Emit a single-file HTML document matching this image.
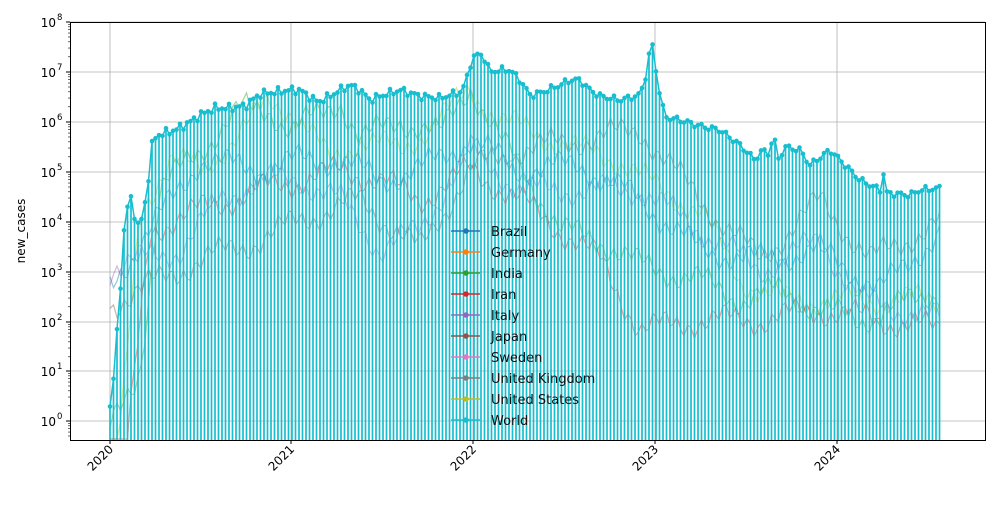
<!DOCTYPE html>
<html><head><meta charset="utf-8"><style>
body{margin:0;background:#fff}
svg{font-family:"DejaVu Sans","Liberation Sans",sans-serif}
</style></head><body>
<svg id="s" width="1000" height="500" viewBox="0 0 1000 500" xmlns="http://www.w3.org/2000/svg">
<rect width="1000" height="500" fill="#fff"/>
<g id="grid"></g>
<g id="others"></g>
<g id="world"></g>
<g id="legend"></g>
<rect x="70.5" y="22.5" width="915" height="418" fill="none" stroke="#000" stroke-width="1"/>
<g id="ticks"></g>
<text transform="translate(25,231) rotate(-90)" text-anchor="middle" font-size="12">new_cases</text>
</svg>
<script>
var NS="http://www.w3.org/2000/svg";
function el(p,t,a,txt){var e=document.createElementNS(NS,t);for(var k in a)e.setAttribute(k,a[k]);if(txt)e.textContent=txt;document.getElementById(p).appendChild(e);return e;}
var B=440;
var ty=[22,72,122,172,222,272,322,371,421];
for(var i=0;i<9;i++){var y=ty[i];
 el('grid','line',{x1:70,x2:985,y1:y,y2:y,stroke:'#b0b0b0','stroke-width':0.8});
 el('ticks','line',{x1:66,x2:70,y1:y,y2:y,stroke:'#000'});
 el('ticks','text',{x:56,y:y+5,'font-size':12,'text-anchor':'end'},'10');
 el('ticks','text',{x:57,y:y-2,'font-size':8.5},String(8-i));
 for(var m=2;m<10;m++){var yy=y+49.8*(1-Math.log10(m));if(yy<440&&yy>22)el('ticks','line',{x1:68,x2:70,y1:yy,y2:yy,stroke:'#000','stroke-width':0.6});}
}
var tx=[110,291,473,655,837];
for(var i=0;i<5;i++){var x=tx[i];
 el('grid','line',{x1:x,x2:x,y1:22,y2:440,stroke:'#b0b0b0','stroke-width':0.8});
 el('ticks','line',{x1:x,x2:x,y1:440,y2:444,stroke:'#000'});
 el('ticks','text',{transform:'translate('+(x+4)+',450) rotate(-45)','font-size':12,'text-anchor':'end'},String(2020+i));
}
var P=[[110,406],[113,390],[115,340],[118,330],[122,258],[125,217],[128,205],[132,197],[136,225],[140,225],[144,210],[148,182],[152,145],[155,138],[158,135],[165,133],[175,130],[190,122],[200,115],[215,108],[230,108],[245,106],[260,94],[275,92],[290,90],[300,90],[310,97],[318,102],[330,96],[340,90],[350,85],[360,90],[370,100],[380,96],[400,90],[420,96],[440,98],[460,92],[465,85],[470,65],[475,55],[483,55],[490,72],[500,70],[510,70],[520,80],[530,95],[540,93],[560,85],[570,80],[580,80],[590,90],[600,96],[620,100],[640,95],[646,75],[651,42],[654,50],[657,80],[665,117],[680,120],[700,126],[720,130],[740,145],[755,160],[762,150],[770,155],[773,130],[778,160],[785,147],[800,150],[810,165],[830,150],[840,160],[860,180],[880,190],[883,170],[886,193],[910,195],[920,190],[942,188]];
function interp(P,x){for(var i=1;i<P.length;i++){if(x<=P[i][0]){var a=P[i-1],b=P[i];return a[1]+(b[1]-a[1])*(x-a[0])/(b[0]-a[0]);}}return P[P.length-1][1];}
var others=[
 ['#2ca02c',[[115,421],[140,370],[160,190],[200,150],[240,110],[270,110],[291,130],[320,115],[340,100],[360,140],[400,120],[440,135],[470,85],[500,140],[530,180],[560,230],[600,240],[640,265],[660,270],[700,280],[740,300],[780,290],[820,310],[860,320],[942,290]]],
 ['#bcbd22',[[125,380],[140,210],[170,160],[200,170],[240,135],[270,100],[291,110],[330,160],[360,140],[400,150],[440,120],[470,90],[500,120],[540,135],[580,150],[620,160],[660,190],[700,210],[740,280],[780,300],[942,300]]],
 ['#d62728',[[130,420],[150,230],[200,210],[260,190],[300,180],[340,170],[380,180],[420,200],[470,170],[520,200],[560,230],[600,260],[640,330],[700,320],[760,320],[820,310],[942,330]]],
 ['#9467bd',[[140,260],[180,250],[220,200],[260,180],[300,180],[340,200],[380,250],[420,230],[470,150],[520,190],[580,190],[640,190],[700,230],[760,270],[820,240],[860,300],[942,320]]],
 ['#8c564b',[[140,290],[200,260],[260,240],[300,220],[360,200],[420,250],[470,170],[520,150],[580,140],[640,130],[700,200],[760,260],[820,200],[870,260],[942,220]]],
 ['#1f77b4',[[150,230],[200,160],[260,170],[300,160],[340,160],[380,180],[420,170],[470,140],[520,170],[580,165],[640,200],[700,250],[760,260],[820,250],[880,290],[942,230]]]
];
others.forEach(function(o,j){var pts=[];for(var x=110;x<=942;x+=3.5){var y=interp(o[1],x)+(Math.sin(x*1.7+j)*10)+Math.sin(x*0.53+j*2)*8;pts.push(x.toFixed(1)+','+Math.min(y,439).toFixed(1));}
 el('others','polyline',{points:pts.join(' '),fill:'none',stroke:o[0],'stroke-width':1.2,opacity:0.45});});
var d='',pts=[];
for(var x=110;x<=942;x+=3.5){var y=interp(P,x)+Math.sin(x*2.3)*2.5+Math.sin(x*0.9)*2;d+='M'+x.toFixed(1)+' '+B+'V'+y.toFixed(1);pts.push([x,y]);}
el('world','path',{d:d,stroke:'#17becf','stroke-width':1.7,fill:'none'});
el('world','polyline',{points:pts.map(function(p){return p[0].toFixed(1)+','+p[1].toFixed(1)}).join(' '),fill:'none',stroke:'#17becf','stroke-width':1.5});
pts.forEach(function(p){el('world','circle',{cx:p[0],cy:p[1],r:2.3,fill:'#17becf'});});
var L=[['Brazil','#1f77b4'],['Germany','#ff7f0e'],['India','#2ca02c'],['Iran','#d62728'],['Italy','#9467bd'],['Japan','#8c564b'],['Sweden','#e377c2'],['United Kingdom','#7f7f7f'],['United States','#bcbd22'],['World','#17becf']];
L.forEach(function(l,i){var y=231+i*21;
 el('legend','line',{x1:451,x2:480,y1:y,y2:y,stroke:l[1],'stroke-width':1.5});
 el('legend','circle',{cx:466,cy:y,r:2.8,fill:l[1]});
 el('legend','text',{x:491,y:y+5,'font-size':13,fill:'#111'},l[0]);});
</script>
</body></html>
